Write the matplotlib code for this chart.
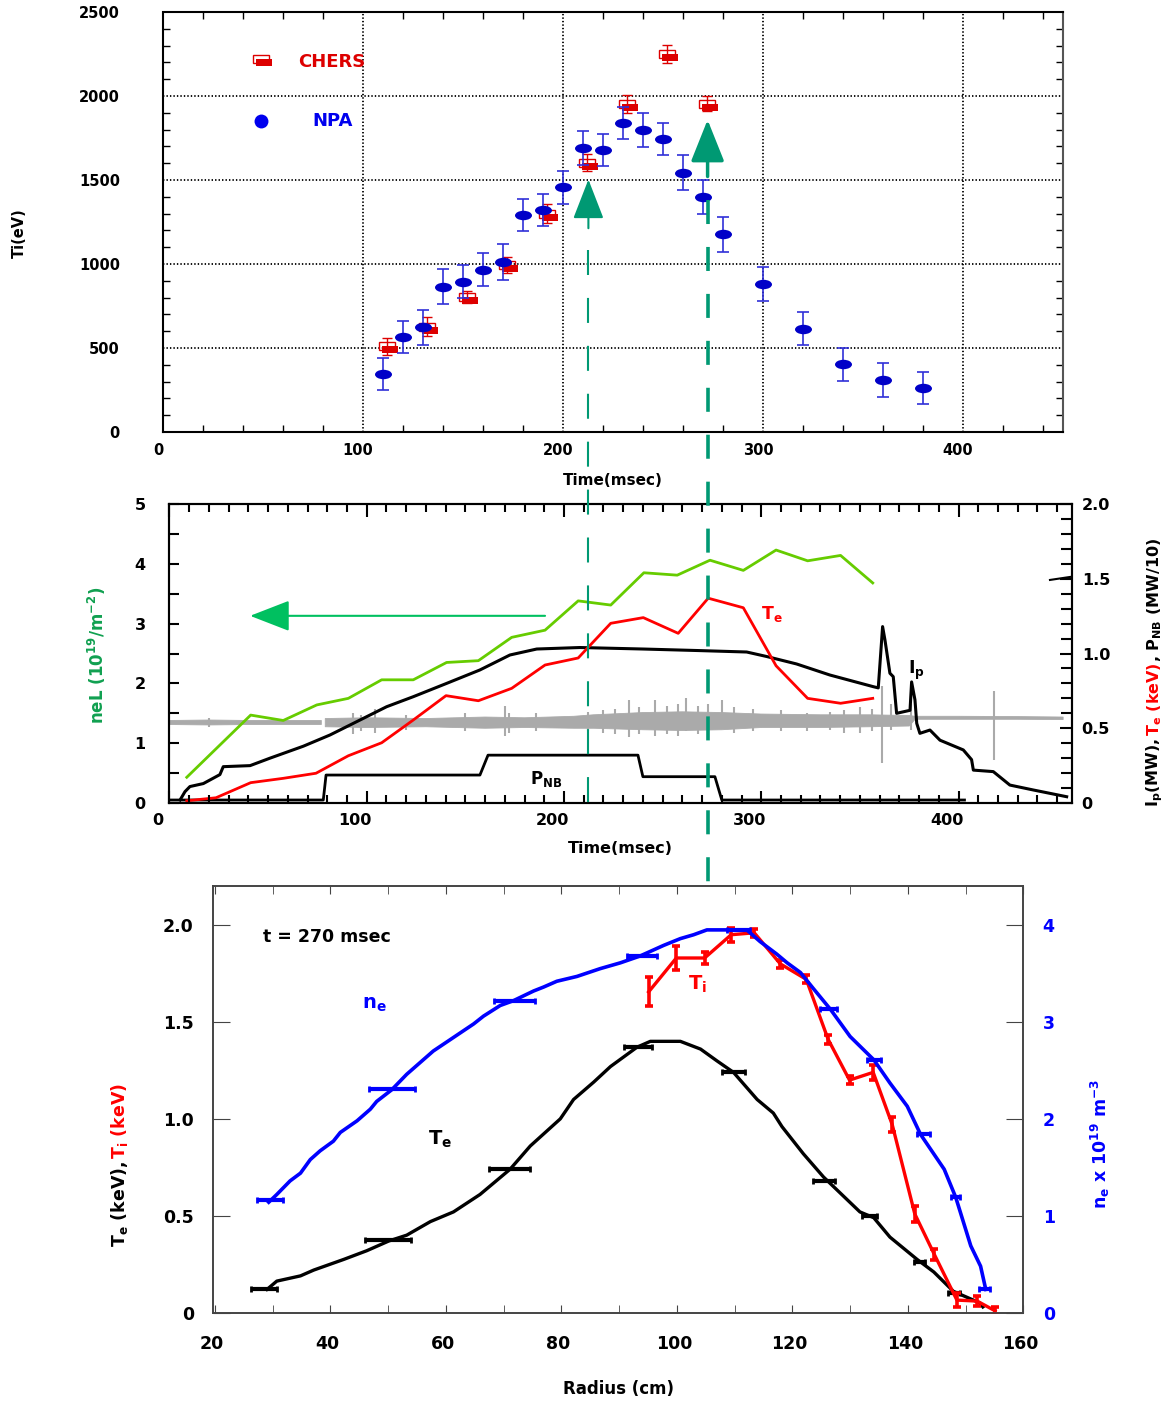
import numpy as np
import matplotlib
matplotlib.use("Agg")
import matplotlib.pyplot as plt
from matplotlib.lines import Line2D
from matplotlib.markers import MarkerStyle
from matplotlib.transforms import Affine2D, ScaledTranslation, blended_transform_factory

plt.rcParams['font.family'] = ['DejaVu Sans']
plt.rcParams['font.weight'] = 'bold'
plt.rcParams['axes.labelweight'] = 'bold'
plt.rcParams['mathtext.fontset'] = 'dejavusans'
plt.rcParams['mathtext.default'] = 'bf'
plt.rcParams['lines.scale_dashes'] = False

# Constants
W, H = 1169, 1404
TOP_RED = '#dd0000'
TOP_BLUE = '#0000c8'
RED = '#ff0000'
BLUE = '#0000ff'
LIME = '#66cc00'
ARROW_GREEN = '#00c060'
LABEL_GREEN = '#10a050'
TEAL = '#009973'
GRAY = '#aaaaaa'

# ---- top panel: ion temperature vs time ----
npa_t = [110, 120, 130, 140, 150, 160, 170, 180, 190, 200, 210, 220, 230, 240, 250,
         260, 270, 280, 300, 320, 340, 360, 380]
npa_ti = [347, 568, 623, 864, 895, 966, 1012, 1292, 1321, 1456, 1692, 1677, 1840, 1795, 1744,
          1544, 1398, 1176, 882, 615, 402, 308, 260]
npa_err = [95, 95, 105, 105, 97, 98, 105, 97, 97, 98, 100, 96, 95, 101, 97,
           104, 103, 104, 100, 100, 100, 100, 95]

chers_t = [112, 132, 152, 172, 192, 212, 232, 252, 272]
chers_ti = [511, 627, 805, 994, 1300, 1602, 1953, 2249, 1953]
chers_err = [50, 55, 35, 50, 55, 50, 52, 52, 45]

# times marked by the arrows (msec)
mark_t = [212.7, 272.3]

# ---- middle panel: time traces ----
nel_t = [8.8, 41.2, 57.7, 74.7, 90.7, 107.6, 123.6, 140.5, 156.6, 173.5, 190.4, 207.2,
         223.7, 240.5, 257.4, 274, 290.9, 307.5, 323.5, 340.2, 356.5]
nel = [0.43, 1.47, 1.38, 1.64, 1.75, 2.06, 2.06, 2.35, 2.38, 2.77, 2.89, 3.38,
       3.31, 3.85, 3.81, 4.06, 3.89, 4.23, 4.05, 4.14, 3.68]

te_t = [8.8, 23.6, 41.2, 57.7, 74.3, 90.7, 107.6, 123.6, 140.2, 156.6, 173.5, 190.4,
        207.2, 223.7, 240.2, 257.9, 273.1, 290.9, 307.5, 323.5, 340.2, 356.5]
te_time = [0.015, 0.035, 0.136, 0.165, 0.199, 0.316, 0.403, 0.555, 0.718, 0.684, 0.767, 0.923,
           0.970, 1.202, 1.24, 1.135, 1.37, 1.306, 0.918, 0.70, 0.667, 0.70]

ip_t = [5.4, 7.9, 10.4, 17.2, 25.6, 27.3, 40.9, 51, 67.9, 81.4, 96.6, 110.1, 123.6, 140.5,
        157.4, 172.6, 186.2, 208.1, 240, 267.3, 292.6, 302.7, 317.9, 334.8, 356.8, 359.3,
        361.5, 362.7, 365.2, 366.9, 368.6, 375.4, 376.2, 377.9, 378.8, 380.4, 385.5, 390.6,
        402.4, 406.6, 407.5, 417.6, 426, 437.9, 454.8]
ip = [0.02, 0.076, 0.11, 0.13, 0.19, 0.243, 0.25, 0.30, 0.38, 0.455, 0.555, 0.644, 0.711, 0.80,
      0.89, 0.99, 1.03, 1.04, 1.03, 1.02, 1.01, 0.98, 0.93, 0.856, 0.778, 0.77,
      1.18, 1.09, 0.868, 0.845, 0.60, 0.62, 0.81, 0.69, 0.533, 0.466, 0.488, 0.42,
      0.355, 0.29, 0.22, 0.21, 0.12, 0.087, 0.042]

pnb_t = [0, 78, 79.4, 157.4, 161.5, 237.5, 240, 276.5, 280, 403]
pnb = [0.02, 0.02, 0.187, 0.187, 0.32, 0.32, 0.176, 0.176, 0.02, 0.02]

# gray fluctuation signal, read as an envelope plus isolated spikes
gray_t = [0, 20, 40, 60, 77, 78, 79, 100, 130, 160, 180, 205, 215, 240, 260, 280, 300,
          330, 355, 375, 378, 400, 430, 453]
gray_hi = [0.552, 0.555, 0.552, 0.552, 0.552, np.nan, 0.565, 0.57, 0.565, 0.575, 0.57, 0.58,
           0.59, 0.605, 0.61, 0.605, 0.595, 0.59, 0.59, 0.585, 0.58, 0.58, 0.578, 0.575]
gray_lo = [0.525, 0.522, 0.525, 0.525, 0.525, np.nan, 0.51, 0.505, 0.51, 0.50, 0.505, 0.50,
           0.5, 0.49, 0.485, 0.49, 0.505, 0.505, 0.51, 0.515, 0.56, 0.56, 0.56, 0.558]
spike_t = [20, 93, 97, 104, 120, 150, 170, 172, 186, 212, 220, 226, 233, 238, 246, 252, 258,
           262, 268, 273, 280, 286, 296, 310, 323, 335, 342, 350, 356, 361, 366, 376, 418]
spike_hi = [0.57, 0.60, 0.59, 0.63, 0.59, 0.60, 0.65, 0.60, 0.60, 0.61, 0.62, 0.63, 0.69,
            0.64, 0.69, 0.65, 0.66, 0.70, 0.65, 0.66, 0.69, 0.64, 0.63, 0.62, 0.60, 0.61,
            0.62, 0.64, 0.63, 0.78, 0.66, 0.66, 0.75]
spike_lo = [0.51, 0.46, 0.48, 0.47, 0.49, 0.48, 0.45, 0.47, 0.48, 0.48, 0.47, 0.46, 0.44,
            0.46, 0.45, 0.46, 0.45, 0.48, 0.46, 0.44, 0.50, 0.47, 0.48, 0.48, 0.48, 0.49,
            0.47, 0.47, 0.48, 0.27, 0.49, 0.49, 0.29]

# ---- bottom panel: radial profiles at t = 270 msec ----
te_r = [29.0, 30.7, 34.8, 37.1, 42.3, 46.3, 50.1, 53.2, 57.3, 61.3, 65.9, 71.1, 74.6, 79.8,
        82.1, 85.6, 88.5, 93.1, 95.4, 100.6, 104.1, 106.9, 109.8, 113.9, 116.7, 118.2,
        121.9, 125.4, 131.7, 134.1, 136.9, 141.6, 144.5, 147.9, 152.5, 153.0]
te_prof = [0.12, 0.163, 0.19, 0.22, 0.275, 0.32, 0.37, 0.40, 0.47, 0.52, 0.61, 0.74, 0.86, 1.00,
           1.10, 1.19, 1.27, 1.37, 1.40, 1.40, 1.36, 1.30, 1.24, 1.10, 1.03, 0.96,
           0.82, 0.70, 0.52, 0.49, 0.39, 0.275, 0.21, 0.11, 0.05, 0.03]
te_bar_r = [28.5, 50.0, 71.0, 93.3, 109.8, 125.5, 133.3, 142.0, 148.0]
te_bar_v = [0.12, 0.375, 0.74, 1.37, 1.24, 0.68, 0.50, 0.263, 0.103]
te_bar_w = [2.2, 4.0, 3.5, 2.4, 2.0, 1.9, 1.3, 1.0, 1.0]

ne_r = [29.3, 30.7, 33.0, 34.8, 36.5, 38.2, 40.5, 41.7, 44.6, 46.9, 48.0, 50.6, 53.2, 55.5,
        57.8, 61.3, 64.8, 66.5, 69.4, 71.7, 75.2, 76.9, 79.2, 82.7, 86.7, 90.2, 93.6, 97.7,
        100.6, 102.9, 105.2, 112.1, 114.4, 117.3, 119.1, 121.4, 123.7, 126.6, 130.0, 134.1,
        136.9, 139.9, 142.2, 146.3, 148.3, 150.9, 152.6, 153.5]
ne_prof = [1.14, 1.22, 1.36, 1.44, 1.58, 1.67, 1.77, 1.86, 1.98, 2.10, 2.18, 2.30, 2.46, 2.58,
           2.70, 2.84, 2.98, 3.06, 3.17, 3.22, 3.32, 3.36, 3.42, 3.47, 3.55, 3.61, 3.68, 3.79,
           3.86, 3.90, 3.95, 3.95, 3.83, 3.70, 3.61, 3.51, 3.34, 3.13, 2.85, 2.61,
           2.37, 2.13, 1.84, 1.48, 1.19, 0.69, 0.48, 0.24]
ne_bar_r = [29.5, 50.7, 71.9, 93.9, 110.7, 126.2, 134.1, 142.7, 148.3, 153.3]
ne_bar_v = [1.16, 2.31, 3.22, 3.68, 3.95, 3.13, 2.61, 1.84, 1.19, 0.24]
ne_bar_w = [2.2, 4.0, 3.5, 2.6, 2.0, 1.5, 1.2, 1.1, 0.8, 0.9]

ti_r = [95.1, 99.9, 104.8, 109.4, 113.4, 117.9, 122.4, 126.2, 129.9, 134.0, 137.3, 141.2,
        144.6, 148.5, 152.0, 155.1]
ti_prof = [1.655, 1.83, 1.83, 1.95, 1.96, 1.80, 1.72, 1.41, 1.20, 1.24, 0.97, 0.51,
           0.30, 0.065, 0.06, 0.01]
ti_err = [0.075, 0.06, 0.03, 0.035, 0.02, 0.02, 0.02, 0.025, 0.02, 0.04, 0.04, 0.04,
          0.03, 0.035, 0.025, 0.02]


def box(left, top, right, bottom):
    # pixel box -> figure fraction rect
    return [left / W, 1 - bottom / H, (right - left) / W, (bottom - top) / H]


def shift_labels(labels, dx_px):
    for lab in labels:
        lab.set_transform(lab.get_transform() + ScaledTranslation(dx_px / 100, 0, fig.dpi_scale_trans))


def stacked_vertical(x_px, bottom_px, parts, size):
    # rotated label made of several coloured pieces, read bottom to top
    prev = fig.text(x_px / W, 1 - bottom_px / H, parts[0][0], color=parts[0][1], rotation=90,
                    ha='center', va='bottom', fontsize=size)
    for txt, col in parts[1:]:
        prev = plt.annotate(txt, xy=(0.5, 1.0), xycoords=prev, color=col, rotation=90,
                            ha='center', va='bottom', fontsize=size, annotation_clip=False)


fig = plt.figure(figsize=(W / 100, H / 100), dpi=100)

# ================= top panel =================
ax1 = fig.add_axes(box(163, 12, 1063, 432))
ax1.set_xlim(0, 450)
ax1.set_ylim(0, 2500)
ax1.set_xticks(range(0, 401, 100))
ax1.set_xticks(range(0, 451, 20), minor=True)
ax1.set_yticks(range(0, 2501, 500))
ax1.set_yticks(range(0, 2501, 100), minor=True)
ax1.grid(True, which='major', color='black', linestyle=(0, (1, 1.5)), linewidth=1.3)
ax1.tick_params(which='both', direction='in', top=True, right=True, labelsize=10.5)
ax1.tick_params(which='major', length=0)
ax1.tick_params(which='minor', length=5, width=1)
ax1.tick_params(axis='y', pad=31)
ax1.tick_params(axis='x', pad=8)
for name, sp in ax1.spines.items():
    sp.set_linewidth(1.5)
    if name != 'right':
        sp.set_linestyle((0, (1, 1.5)))
    else:
        sp.set_color('#555555')
shift_labels(ax1.get_xticklabels(), -5)
ax1.set_axisbelow(True)

npa_marker = MarkerStyle('o', transform=Affine2D().scale(1.8, 1.0))
rect_open = MarkerStyle('s', fillstyle='none', transform=Affine2D().scale(2.25, 1.0))
rect_fill = MarkerStyle('s', transform=Affine2D().scale(2.25, 1.0).translate(0.4, -0.45))

ax1.errorbar(chers_t, chers_ti, yerr=chers_err, fmt='none', ecolor=TOP_RED,
             elinewidth=1.0, capsize=3.6, capthick=1.0, zorder=3)
ax1.plot(chers_t, chers_ti, ls='none', marker=rect_open, ms=5.4, mec=TOP_RED, mew=1.0, zorder=3)
ax1.plot(chers_t, chers_ti, ls='none', marker=rect_fill, ms=5.4, color=TOP_RED, mew=0, zorder=3)
ax1.errorbar(npa_t, npa_ti, yerr=npa_err, fmt='none', ecolor='#3030d8',
             elinewidth=1.2, capsize=4.3, capthick=1.2, zorder=4)
ax1.plot(npa_t, npa_ti, ls='none', marker=npa_marker, ms=6.8, color=TOP_BLUE, mew=0, zorder=4)

# legend drawn by hand
ax1.plot([0.109], [0.888], transform=ax1.transAxes, ls='none', marker=rect_open, ms=5.4,
         mec=TOP_RED, mew=1.0)
ax1.plot([0.109], [0.888], transform=ax1.transAxes, ls='none', marker=rect_fill, ms=5.4,
         color=TOP_RED, mew=0)
ax1.text(0.15, 0.881, 'CHERS', transform=ax1.transAxes, color=TOP_RED, fontsize=13,
         ha='left', va='center')
ax1.plot([0.109], [0.740], transform=ax1.transAxes, ls='none', marker='o', ms=10,
         color='#0000ee', mew=0)
ax1.text(0.1656, 0.740, 'NPA', transform=ax1.transAxes, color='#0000ee', fontsize=13,
         ha='left', va='center')

ax1.xaxis.set_label_coords(0.4956, -0.098)
ax1.set_xlabel('Time(msec)', fontsize=11, va='top')
fig.text(19 / W, 1 - 233 / H, 'Ti(eV)', rotation=90, ha='center', va='center', fontsize=10.5)

# arrow heads marking the two times
ax1.annotate('', xy=(mark_t[0], 1503), xytext=(mark_t[0], 1213),
             arrowprops=dict(arrowstyle='-|>,head_length=2.5,head_width=0.97', color=TEAL,
                             lw=1.5, mutation_scale=10, shrinkA=0, shrinkB=0), zorder=6)
ax1.annotate('', xy=(mark_t[1], 1858), xytext=(mark_t[1], 1521),
             arrowprops=dict(arrowstyle='-|>,head_length=2.6,head_width=1.04', color=TEAL,
                             lw=2.5, mutation_scale=10, shrinkA=0, shrinkB=0), zorder=6)

# ================= middle panel =================
ax2 = fig.add_axes(box(169.4, 504, 1072, 803))
ax2.set_xlim(0, 457.5)
ax2.set_ylim(0, 5)
ax2.set_xticks(range(0, 401, 100))
ax2.set_xticks(range(0, 451, 10), minor=True)
ax2.set_yticks(range(0, 6))
ax2.set_yticks(np.arange(0, 5.01, 0.5), minor=True)
ax2.tick_params(which='both', direction='in', top=True, labelsize=11.5, width=1.5)
ax2.tick_params(axis='x', which='major', length=9, pad=7)
ax2.tick_params(axis='x', which='minor', length=6)
ax2.tick_params(axis='y', which='both', length=7, pad=17)
for sp in ax2.spines.values():
    sp.set_linewidth(1.5)

ax2r = ax2.twinx()
ax2r.set_ylim(0, 2)
ax2r.set_yticks([0, 0.5, 1.0, 1.5, 2.0])
ax2r.set_yticklabels(['0', '0.5', '1.0', '1.5', '2.0'])
ax2r.set_yticks(np.arange(0, 2.01, 0.1), minor=True)
ax2r.tick_params(which='both', direction='in', labelsize=11.5, width=1.5, pad=7)
ax2r.tick_params(which='major', length=9)
ax2r.tick_params(which='minor', length=8)
for sp in ax2r.spines.values():
    sp.set_linewidth(1.5)
shift_labels(ax2.get_xticklabels(), -12)

ax2r.fill_between(gray_t, gray_lo, gray_hi, color=GRAY, lw=0.6)
ax2r.vlines(spike_t, spike_lo, spike_hi, color=GRAY, lw=1.5)
ax2r.plot(pnb_t, pnb, color='black', lw=2)
ax2r.plot(ip_t, ip, color='black', lw=2.2)
ax2r.plot(te_t, te_time, color=RED, lw=2)
ax2.plot(nel_t, nel, color=LIME, lw=2, zorder=5)
ax2.set_zorder(ax2r.get_zorder() + 1)
ax2.patch.set_visible(False)

ax2.annotate('', xy=(40.9, 3.13), xytext=(190.4, 3.13),
             arrowprops=dict(arrowstyle='-|>,head_length=2.5,head_width=0.97', color=ARROW_GREEN,
                             lw=1.5, mutation_scale=10, shrinkA=0, shrinkB=0))
ax2r.text(305.4, 1.264, 'T$_e$', color=RED, fontsize=12.5, ha='center', va='center')
ax2r.text(378.4, 0.89, 'I$_p$', color='black', fontsize=12.5, ha='center', va='center')
ax2r.text(190.9, 0.16, 'P$_{NB}$', color='black', fontsize=12, ha='center', va='center')
ax2r.plot([0.9756, 0.9978], [0.746, 0.756], transform=ax2r.transAxes, color='black', lw=1.5)

ax2.xaxis.set_label_coords(0.481, -0.128)
ax2.set_xlabel('Time(msec)', fontsize=11.5, va='top')
fig.text(97 / W, 1 - 655 / H, 'neL (10$^{19}$/m$^{-2}$)', color=LABEL_GREEN, rotation=90,
         ha='center', va='center', fontsize=12)
stacked_vertical(1155, 807, [('I$_p$(MW), ', 'black'), ('T$_e$ (keV)', RED),
                             (', P$_{NB}$ (MW/10)', 'black')], 11.5)

# ================= bottom panel =================
ax3 = fig.add_axes(box(213.3, 885.7, 1023.3, 1312.7))
ax3.set_xlim(19.7, 160)
ax3.set_ylim(0, 2.203)
ax3.set_xticks(range(20, 161, 20))
ax3.set_xticks(range(20, 161, 10), minor=True)
ax3.set_yticks([0, 0.5, 1.0, 1.5, 2.0])
ax3.set_yticklabels(['0', '0.5', '1.0', '1.5', '2.0'])
ax3.tick_params(which='both', direction='in', top=True, labelsize=12.5, color='#444444')
ax3.tick_params(axis='x', which='both', length=6, pad=16)
ax3.tick_params(axis='y', length=12, pad=14)
for sp in ax3.spines.values():
    sp.set_linewidth(1.2)
    sp.set_color('#444444')

ax3r = ax3.twinx()
ax3r.set_ylim(0, 4.406)
ax3r.set_yticks([0, 1, 2, 3, 4])
ax3r.tick_params(direction='in', length=12, pad=14, labelsize=12.5, colors=BLUE, color='#444444')
for sp in ax3r.spines.values():
    sp.set_linewidth(1.2)
    sp.set_color('#444444')
shift_labels(ax3.get_xticklabels(), -3)

ax3.plot(te_r, te_prof, color='black', lw=2.4, zorder=3)
ax3.errorbar(te_bar_r, te_bar_v, xerr=te_bar_w, fmt='none', ecolor='black', elinewidth=3,
             capsize=2.5, capthick=2, zorder=3)
ax3.plot(ti_r, ti_prof, color=RED, lw=2.4, zorder=4)
ax3.errorbar(ti_r, ti_prof, yerr=ti_err, fmt='none', ecolor=RED, elinewidth=2.6,
             capsize=2.9, capthick=2.6, zorder=4)
ax3r.plot(ne_r, ne_prof, color=BLUE, lw=2.6, zorder=3)
ax3r.errorbar(ne_bar_r, ne_bar_v, xerr=ne_bar_w, fmt='none', ecolor=BLUE, elinewidth=3,
              capsize=2.5, capthick=2, zorder=3)

ax3.text(0.061, 0.88, 't = 270 msec', transform=ax3.transAxes, fontsize=12.5, ha='left', va='center')
ax3.text(47.6, 1.59, 'n$_e$', color=BLUE, fontsize=14, ha='center', va='center')
ax3.text(59.0, 0.895, 'T$_e$', color='black', fontsize=14, ha='center', va='center')
ax3.text(103.5, 1.694, 'T$_i$', color=RED, fontsize=14, ha='center', va='center')

ax3.xaxis.set_label_coords(0.461, -0.157)
ax3.set_xlabel('Radius (cm)', fontsize=12, va='top')
stacked_vertical(119, 1247, [('T$_e$ (keV), ', 'black'), ('T$_i$ (keV)', RED)], 12.5)
fig.text(1100 / W, 1 - 1144 / H, 'n$_e$ x 10$^{19}$ m$^{-3}$', color=BLUE, rotation=90,
         ha='center', va='center', fontsize=12.5)

# dashed time markers running down through the panels
blend = blended_transform_factory(ax1.transData, fig.transFigure)
fig.add_artist(Line2D([mark_t[0], mark_t[0]], [1 - 250 / H, 1 - 803 / H], transform=blend,
                      color=TEAL, lw=1.5, dashes=(18, 16.5)))
fig.add_artist(Line2D([mark_t[1], mark_t[1]], [1 - 200 / H, 1 - 883 / H], transform=blend,
                      color=TEAL, lw=2.6, dashes=(17.3, 16.5)))

fig.savefig('out.png', dpi=100)
